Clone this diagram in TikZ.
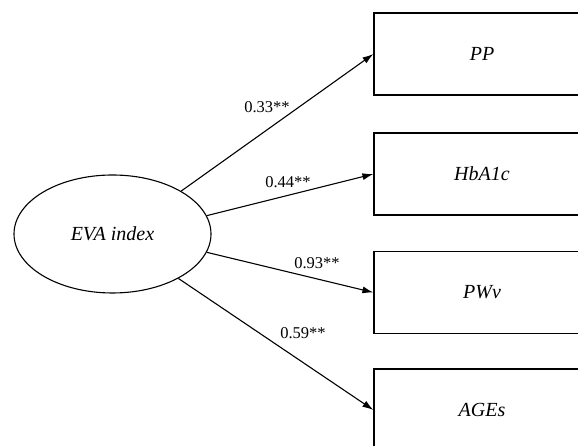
\documentclass[tikz,border=0pt]{standalone}
\usepackage{fontspec}
\setmainfont{Liberation Serif}
\usetikzlibrary{shapes.geometric,arrows.meta}
\tikzset{
  latent/.style={draw, ellipse, line width=1.1pt, minimum width=197pt, minimum height=118pt, font=\fontsize{20}{24}\selectfont\itshape},
  observed/.style={draw, rectangle, line width=1.2pt, minimum width=216pt, minimum height=82pt, font=\fontsize{20}{24}\selectfont\itshape},
  path/.style={line width=1.1pt, -{Latex[length=11pt,width=7pt]}},
  coef/.style={font=\fontsize{16.5}{19}\selectfont, inner sep=0pt}
}
\begin{document}
\begin{tikzpicture}[x=1pt,y=1pt]
\clip (0,0) rectangle (578,446);
% Latent variable
\node[latent] (eva) at (112.5,212) {EVA index};
% Indicators
\node[observed] (pp) at (482,392) {PP};
\node[observed] (hba) at (482,272) {HbA1c};
\node[observed] (pwv) at (482,153.5) {PWv};
\node[observed] (ages) at (482,36) {AGEs};
% Loadings
\draw[path] (eva.32) -- (pp.west);
\draw[path] (eva.11) -- (hba.west);
\draw[path] (eva.-11) -- (pwv.west);
\draw[path] (eva.-34) -- (ages.west);
\node[coef] (l1) at (267,339) {0.33**};
\node[coef] (l2) at (288,264) {0.44**};
\node[coef] (l3) at (317,183) {0.93**};
\node[coef] (l4) at (303,113) {0.59**};
\end{tikzpicture}
\end{document}
